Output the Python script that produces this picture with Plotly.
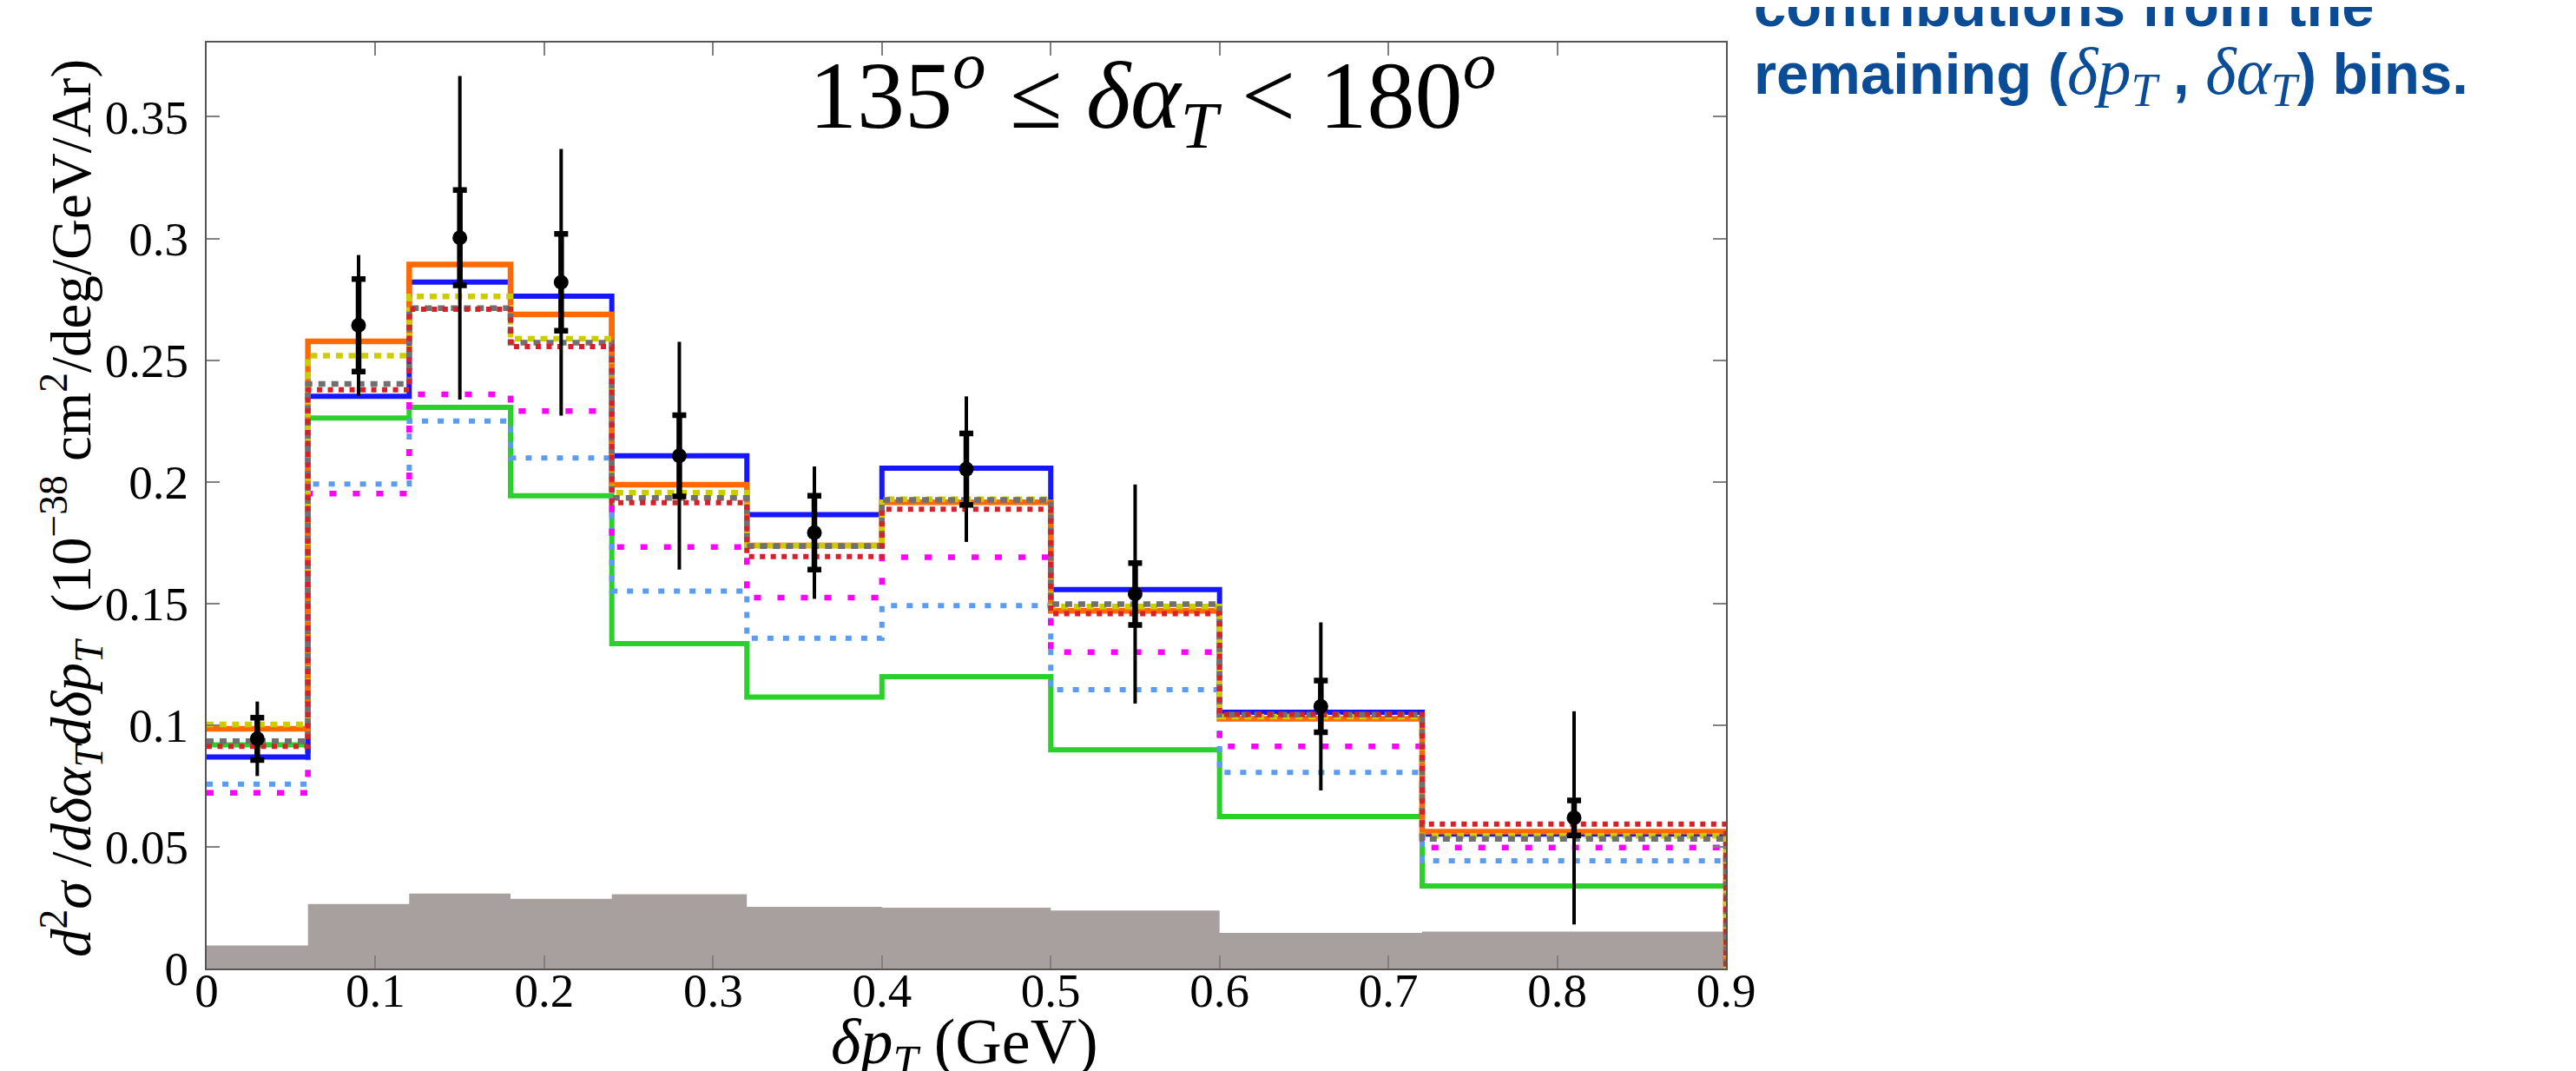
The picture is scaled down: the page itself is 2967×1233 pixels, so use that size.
import plotly.graph_objects as go

# ---------------- data ----------------
edges = [0.0, 0.06, 0.12, 0.18, 0.24, 0.32, 0.40, 0.50, 0.60, 0.72, 0.90]
centers = [0.03, 0.09, 0.15, 0.21, 0.28, 0.36, 0.45, 0.55, 0.66, 0.81]

blue = [0.0869, 0.2351, 0.2821, 0.2763, 0.2107, 0.1865, 0.2056, 0.1557, 0.1053, 0.0552]
orange = [0.0985, 0.2577, 0.2893, 0.2688, 0.1988, 0.1738, 0.1916, 0.1470, 0.1026, 0.0562]
green = [0.0919, 0.2262, 0.2306, 0.1943, 0.1335, 0.1115, 0.1199, 0.0899, 0.0625, 0.0339]
yellow = [0.1003, 0.2518, 0.2762, 0.2588, 0.1955, 0.1738, 0.1928, 0.1488, 0.1035, 0.0545]
grey = [0.0934, 0.2402, 0.2714, 0.2572, 0.1934, 0.1736, 0.1926, 0.1497, 0.1043, 0.0533]
red = [0.0913, 0.2378, 0.2709, 0.2556, 0.1914, 0.1693, 0.1887, 0.1458, 0.1044, 0.0593]
lightblue = [0.0758, 0.1991, 0.2250, 0.2098, 0.1551, 0.1357, 0.1491, 0.1146, 0.0806, 0.0443]
magenta = [0.0722, 0.1952, 0.2359, 0.2291, 0.1732, 0.1524, 0.1690, 0.1300, 0.0913, 0.0497]
background = [0.0095, 0.0265, 0.0308, 0.0286, 0.0305, 0.0253, 0.0250, 0.0238, 0.0146, 0.0152]

data = [0.0944, 0.2643, 0.3003, 0.2820, 0.2107, 0.1791, 0.2052, 0.1539, 0.1077, 0.0619]
stat_err = [0.0087, 0.0190, 0.0196, 0.0199, 0.0167, 0.0152, 0.0147, 0.0127, 0.0106, 0.0072]
total_err = [0.0153, 0.0289, 0.0665, 0.0548, 0.0468, 0.0272, 0.0299, 0.0450, 0.0345, 0.0438]

xticks = [0, 0.1, 0.2, 0.3, 0.4, 0.5, 0.6, 0.7, 0.8, 0.9]
xticklabels = ["0", "0.1", "0.2", "0.3", "0.4", "0.5", "0.6", "0.7", "0.8", "0.9"]
yticks = [0, 0.05, 0.1, 0.15, 0.2, 0.25, 0.3, 0.35]
yticklabels = ["0", "0.05", "0.1", "0.15", "0.2", "0.25", "0.3", "0.35"]

# ---------------- figure ----------------
W, H = 2967, 1233
L, R, T, B = 230, 987, 41, 126
SERIF = "Liberation Serif, Times New Roman, serif"
SANS = "Liberation Sans, Arial, sans-serif"
BLUE_TXT = "#0a4c96"

fig = go.Figure()


def step_xy(vals):
    xs = list(edges) + [edges[-1]]
    ys = list(vals) + [vals[-1], 0.0]
    return xs, ys


# background (filled grey histogram)
fig.add_trace(go.Scatter(
    x=list(edges), y=list(background) + [background[-1]],
    mode="lines", line=dict(shape="hv", width=0, color="#a8a09e"),
    fill="tozeroy", fillcolor="#a8a09e", hoverinfo="skip", showlegend=False))

styles = [
    (green, "#29d12a", 6, "solid"),
    (lightblue, "#5c9cf0", 6, "7px,11px"),
    (magenta, "#ff00ff", 6.5, "8px,19px"),
    (blue, "#1717ff", 6, "solid"),
    (orange, "#ff6a00", 6.5, "solid"),
    (yellow, "#cccc00", 6.5, "8px,6.7px"),
    (grey, "#707070", 6.5, "8px,7px"),
    (red, "#d6202a", 6, "6px,6.5px"),
]
for vals, col, w, dash in styles:
    xs, ys = step_xy(vals)
    fig.add_trace(go.Scatter(
        x=xs, y=ys, mode="lines",
        line=dict(shape="hv", color=col, width=w, dash=dash),
        hoverinfo="skip", showlegend=False))

# data: total error (thin, no caps)
fig.add_trace(go.Scatter(
    x=centers, y=data, mode="markers",
    marker=dict(size=1, color="black", opacity=0),
    error_y=dict(type="data", array=total_err, visible=True,
                 color="black", thickness=4, width=0),
    showlegend=False))
# data: stat error (thick with caps) + markers
fig.add_trace(go.Scatter(
    x=centers, y=data, mode="markers",
    marker=dict(size=17, color="black", symbol="circle"),
    error_y=dict(type="data", array=stat_err, visible=True,
                 color="black", thickness=6.5, width=8),
    showlegend=False))

axis_common = dict(
    showline=True, linecolor="#555555", linewidth=2, mirror="ticks",
    ticks="inside", ticklen=15, tickwidth=2, tickcolor="#808080",
    showgrid=False, zeroline=False,
    tickfont=dict(family=SERIF, size=55, color="black"),
)

fig.update_xaxes(range=[0, 0.9], tickvals=xticks, ticktext=xticklabels,
                 ticklabelstandoff=-24, **axis_common)
fig.update_yaxes(range=[0, 0.3805], tickvals=yticks, ticktext=yticklabels,
                 ticklabelstandoff=8, **axis_common)

plot_w = W - L - R
plot_h = H - T - B


def px_x(px):
    return (px - L) / plot_w


def px_y(py):
    return (H - B - py) / plot_h


def m(s, size=76):
    return "<span style='font-family:Liberation Serif;font-size:%dpx'>%s</span>" % (size, s)


annotations = [
    # panel label
    dict(text="135<sup><i>o</i></sup> ≤ <i>δα</i><sub><i>T</i></sub> &lt; 180<sup><i>o</i></sup>",
         x=px_x(922), y=px_y(102), xref="paper", yref="paper",
         xanchor="left", yanchor="middle", showarrow=False,
         font=dict(family=SERIF, size=110, color="black")),
    # y title
    dict(text="<i>d</i><sup>2</sup><i>σ</i> /<i>dδα</i><sub><i>T</i></sub><i>dδp</i><sub><i>T</i></sub>  "
              "(10<sup>−38</sup> cm<sup>2</sup>/deg/GeV/Ar)",
         x=px_x(74), y=px_y(577), xref="paper", yref="paper",
         xanchor="center", yanchor="middle", textangle=-90, showarrow=False,
         font=dict(family=SERIF, size=65, color="black")),
    # x title
    dict(text="<i>δp</i><sub><i>T</i></sub> (GeV)",
         x=px_x(1103), y=px_y(1196), xref="paper", yref="paper",
         xanchor="center", yanchor="middle", showarrow=False,
         font=dict(family=SERIF, size=74, color="black")),
    # right-hand text (slide text, partially cut at the top)
    dict(text="<b>contributions from the</b>",
         x=px_x(2010), y=px_y(-2), xref="paper", yref="paper",
         xanchor="left", yanchor="middle", showarrow=False,
         font=dict(family=SANS, size=67, color=BLUE_TXT)),
    dict(text="<b>remaining (</b>" + m("<i>δp</i>") + "<sub>" + m("<i>T</i>", 54) + "</sub><b> , </b>"
              + m("<i>δα</i>") + "<sub>" + m("<i>T</i>", 54) + "</sub><b>) bins.</b>",
         x=px_x(2010), y=px_y(79), xref="paper", yref="paper",
         xanchor="left", yanchor="middle", showarrow=False,
         font=dict(family=SANS, size=67, color=BLUE_TXT)),
]

fig.update_layout(
    width=W, height=H,
    margin=dict(l=L, r=R, t=T, b=B, pad=0),
    paper_bgcolor="white", plot_bgcolor="white",
    showlegend=False,
    annotations=annotations,
)

fig.write_html("out.html")
